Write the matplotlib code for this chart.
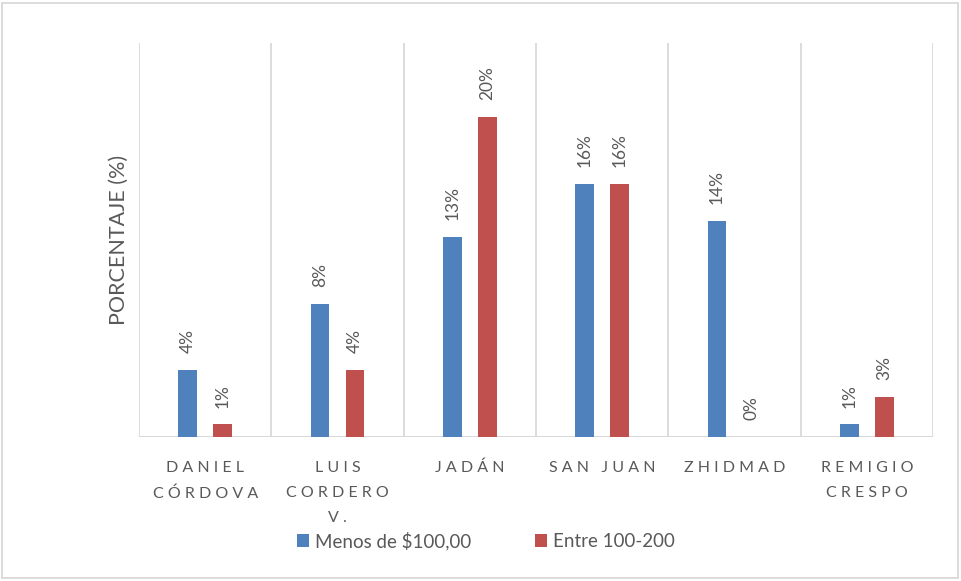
import matplotlib.pyplot as plt
from matplotlib.patches import Rectangle

plt.rcParams['font.family'] = ['Lato', 'DejaVu Sans']

# data: percentage of households per parish
parroquias = ["DANIEL\nCÓRDOVA", "LUIS\nCORDERO\nV.", "JADÁN", "SAN JUAN", "ZHIDMAD", "REMIGIO\nCRESPO"]
menos_100 = [4.2, 8.3, 12.5, 15.8, 13.5, 0.8]
entre_100_200 = [0.8, 4.2, 20.0, 15.8, 0.0, 2.5]
series_names = ["Menos de $100,00", "Entre 100-200"]

azul = "#4f81bd"
rojo = "#c0504d"
gris = "#595959"
linea = "#d9d9d9"


def spaced(txt):
    # excel style letter spacing
    lines = []
    for ln in txt.split("\n"):
        words = [" ".join(w) for w in ln.split(" ")]
        lines.append("   ".join(words))
    return "\n".join(lines)


def pct_label(v):
    return "%d%%" % int(v + 0.5)


fig = plt.figure(figsize=(9.61, 5.81), dpi=100)
ax = fig.add_axes([139 / 961, (581 - 437) / 581, (933 - 139) / 961, (437 - 43) / 581])

x = list(range(len(parroquias)))
w = 0.14
off = 0.132
ax.bar([i - off for i in x], menos_100, w, color=azul, label=series_names[0], zorder=3)
ax.bar([i + off for i in x], entre_100_200, w, color=rojo, label=series_names[1], zorder=3)

for i in x:
    for xx, v in ((i - off, menos_100[i]), (i + off, entre_100_200[i])):
        ax.annotate(pct_label(v), (xx, v), xytext=(0, 12), textcoords="offset points",
                    rotation=90, ha="center", va="bottom", fontsize=12.5, color=gris)

for b in range(len(parroquias) + 1):
    ax.axvline(b - 0.5, color=linea, lw=1.3, zorder=1)
ax.axhline(0, color=linea, lw=1.5, zorder=2)

ax.set_xlim(-0.5, len(parroquias) - 0.5)
ax.set_ylim(0, 24.6)
for s in ax.spines.values():
    s.set_visible(False)
ax.set_yticks([])
ax.set_xticks(x)
ax.set_xticklabels([spaced(p) for p in parroquias], fontsize=11.5, color=gris, linespacing=2.0, va="top")
ax.tick_params(axis="x", length=0, pad=17)

ax.set_ylabel("PORCENTAJE (%)", fontsize=15.5, color=gris)
ax.yaxis.set_label_coords(-0.013, 0.5)

fig.legend(loc="center", bbox_to_anchor=(486 / 961, 1 - 541 / 581), ncol=2, frameon=False,
           fontsize=13.5, labelcolor=gris, handlelength=0.65, handleheight=0.65,
           handletextpad=0.3, columnspacing=3.4)

fig.patches.append(Rectangle((2 / 961, 3 / 581), 956 / 961, 575 / 581, transform=fig.transFigure,
                             fill=False, edgecolor=linea, lw=1.3))

fig.savefig("out.png", dpi=100)
